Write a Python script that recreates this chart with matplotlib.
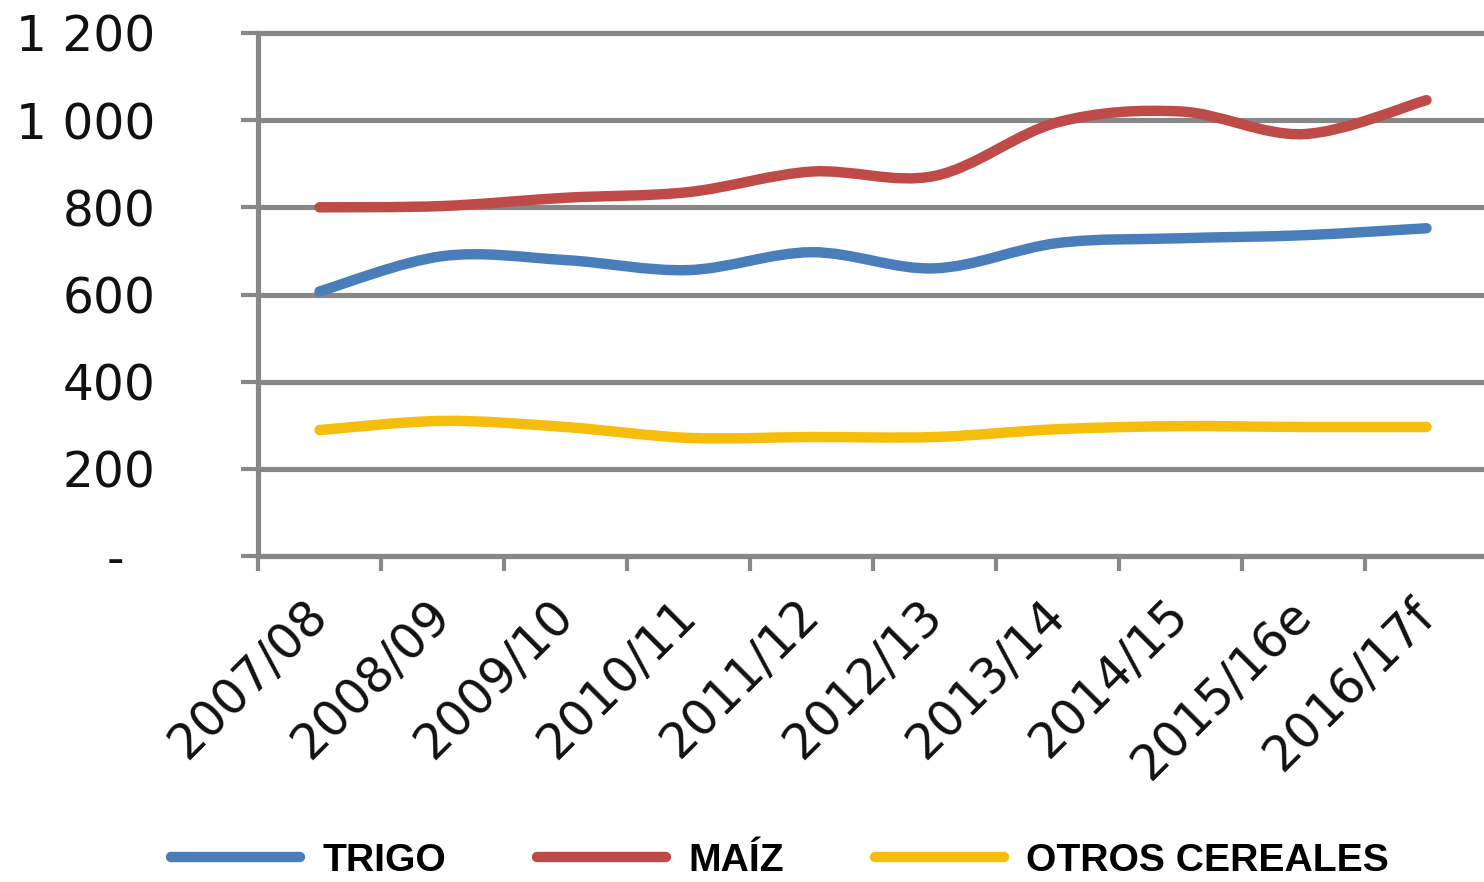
import numpy as np
import matplotlib
matplotlib.use('Agg')
import matplotlib.pyplot as plt
from matplotlib.path import Path
from matplotlib.patches import PathPatch
from matplotlib.lines import Line2D

categories = ['2007/08', '2008/09', '2009/10', '2010/11', '2011/12',
              '2012/13', '2013/14', '2014/15', '2015/16e', '2016/17f']
trigo = [607, 688, 679, 656, 697, 660, 718, 729, 736, 752]
maiz = [800, 803, 822, 835, 882, 872, 995, 1020, 968, 1046]
otros = [289, 310, 296, 271, 273, 273, 291, 298, 296, 296]
y_ticks = [0, 200, 400, 600, 800, 1000, 1200]
y_labels = ['-  ', '200', '400', '600', '800', '1 000', '1 200']
series_names = ['TRIGO', 'MAÍZ', 'OTROS CEREALES']
colors = ['#4A7EBB', '#BE4B48', '#F6BE0C']
GRID = '#878787'


def smooth_path(x, y, t=1 / 6):
    pts = np.column_stack([x, y]).astype(float)
    n = len(pts)
    verts = [pts[0]]
    codes = [Path.MOVETO]
    for i in range(n - 1):
        p0 = pts[i - 1] if i > 0 else pts[i]
        p1 = pts[i]
        p2 = pts[i + 1]
        p3 = pts[i + 2] if i + 2 < n else pts[i + 1]
        c1 = p1 + (p2 - p0) * t
        c2 = p2 - (p3 - p1) * t
        verts += [c1, c2, p2]
        codes += [Path.CURVE4] * 3
    return Path(verts, codes)


W, H = 1484, 882
fig = plt.figure(figsize=(W / 100, H / 100), dpi=100)
ax = fig.add_axes([258 / W, (H - 556) / H, 1230 / W, 523 / H])

x = np.arange(len(categories)) + 0.5
ax.set_xlim(0, len(categories))
ax.set_ylim(0, 1200)

# grid
ax.set_yticks(y_ticks)
ax.set_yticklabels(y_labels)
ax.yaxis.grid(True, color=GRID, linewidth=3.7)
for gl in ax.get_ygridlines():
    gl.set_clip_on(False)
ax.set_axisbelow(True)

for s in ['top', 'right']:
    ax.spines[s].set_visible(False)
for s in ['left', 'bottom']:
    ax.spines[s].set_color(GRID)
    ax.spines[s].set_linewidth(3.7)

ax.tick_params(axis='y', direction='out', length=12, width=3.0, color=GRID,
               pad=62, labelsize=35, labelcolor='#111111')

ax.set_xticks(np.arange(len(categories)))
ax.set_xticklabels([])
ax.set_xticks(x, minor=True)
ax.set_xticklabels(categories, minor=True, rotation=45, ha='right', va='center',
                   rotation_mode='anchor', fontsize=35, color='#111111')
ax.tick_params(axis='x', which='major', direction='out', length=11, width=3.0, color=GRID)
ax.tick_params(axis='x', which='minor', length=0, pad=37)

handles = []
for vals, c, name in zip([trigo, maiz, otros], colors, series_names):
    patch = PathPatch(smooth_path(x, vals), facecolor='none', edgecolor=c,
                      linewidth=7.5, capstyle='round', joinstyle='round', zorder=3)
    ax.add_patch(patch)
    handles.append(Line2D([], [], color=c, linewidth=7.5, solid_capstyle='round', label=name))

leg = fig.legend(handles=handles, loc='center', bbox_to_anchor=(780 / W, (H - 861) / H),
                 ncol=3, frameon=False, handlelength=3.3, handletextpad=0.56,
                 columnspacing=2.33, borderpad=0.2,
                 prop={'family': 'Liberation Sans', 'weight': 'bold', 'size': 28.2})

fig.savefig('out.png', dpi=100)
